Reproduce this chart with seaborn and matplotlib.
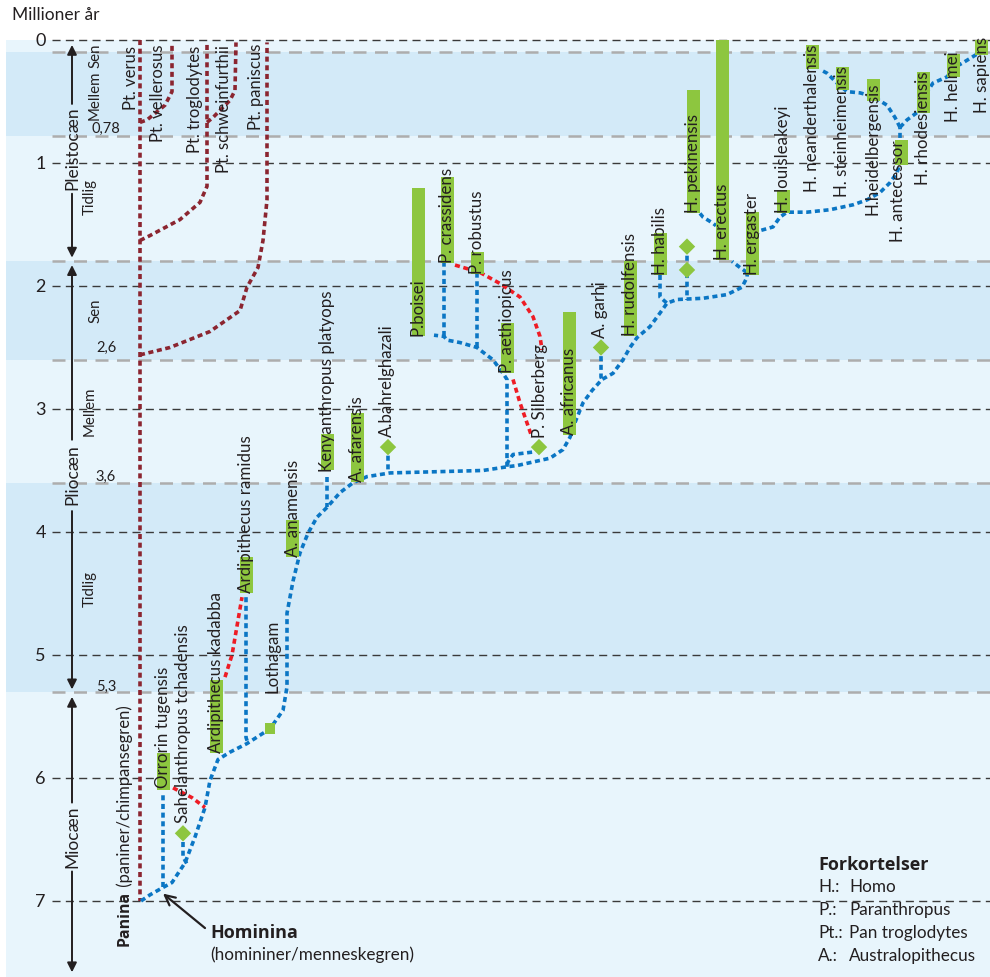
import matplotlib
matplotlib.use("Agg")
import matplotlib.pyplot as plt
import seaborn as sns
import pandas as pd

# ---- time axis (millions of years) ----
year_ticks = [0, 1, 2, 3, 4, 5, 6, 7]
band_edges = [0, 0.1, 0.78, 1.8, 2.6, 3.6, 5.3, 7.62]
band_dark = [False, True, False, True, False, True, False]
boundary_ma = [0.1, 0.78, 1.8, 2.6, 3.6, 5.3]
boundary_text = ["0,78", "2,6", "3,6", "5,3"]
boundary_text_ma = [0.72, 2.50, 3.55, 5.26]

epoch_names = ["Pleistocæn", "Pliocæn", "Miocæn"]
epoch_top = [0.04, 1.83, 5.34]
epoch_bottom = [1.77, 5.28, 7.58]
epoch_mid = [0.88, 3.53, 6.48]
epoch_gap_top = [0.52, 3.25, 6.20]
epoch_gap_bottom = [1.25, 3.83, 6.76]

sub_names = ["Sen", "Mellem", "Tidlig", "Sen", "Mellem", "Tidlig"]
sub_x = [95, 95, 90, 95, 90, 90]
sub_ma = [0.13, 0.45, 1.28, 2.20, 3.02, 4.46]

# ---- known time ranges (green bars) ----
bar_x = [163, 216, 246, 292, 327, 357, 418, 447, 477, 507, 569, 630, 660,
         693, 722, 752, 783, 812, 842, 873, 901, 923, 953, 981]
bar_from = [5.80, 5.20, 4.20, 3.90, 3.20, 3.03, 1.20, 1.11, 1.72, 2.30, 2.21, 1.80, 1.57,
            0.41, 0.00, 1.40, 1.22, 0.04, 0.22, 0.32, 0.81, 0.26, 0.11, 0.00]
bar_to = [6.10, 5.80, 4.50, 4.20, 3.50, 3.59, 2.41, 1.81, 1.90, 2.71, 3.21, 2.41, 1.91,
          1.41, 1.79, 1.91, 1.41, 0.24, 0.41, 0.50, 1.02, 0.59, 0.30, 0.12]

# ---- species names ----
species = ["Orrorin tugensis", "Sahelanthropus tchadensis", "Ardipithecus kadabba",
           "Ardipithecus ramidus", "Lothagam", "A. anamensis", "Kenyanthropus platyops",
           "A. afarensis", "A.bahrelghazali", "P.boisei", "P. crassidens", "P. robustus",
           "P. aethiopicus", "P. Silberberg", "A. africanus", "A. garhi", "H. rudolfensis",
           "H. habilis", "H. pekinensis", "H. erectus", "H. ergaster", "H. louisleakeyi",
           "H. neanderthalensis", "H. steinheimensis", "H.heidelbergensis", "H. antecessor",
           "H. rhodesiensis", "H. helmei", "H. sapiens"]
species_x = [163, 183, 216, 246, 272, 293, 327, 357, 387, 418, 447, 477, 507, 540, 569,
             600, 630, 660, 693, 722, 752, 783, 812, 842, 873, 898, 923, 953, 982]
species_ma = [6.08, 6.37, 5.80, 4.50, 5.31, 4.20, 3.51, 3.59, 3.23, 2.41, 1.81, 1.90, 2.71,
              3.24, 3.21, 2.42, 2.41, 1.91, 1.41, 1.79, 1.91, 1.41, 1.24, 1.28, 1.42, 1.64,
              1.18, 0.67, 0.59]

chimps = ["Pt. verus", "Pt. vellerosus", "Pt. troglodytes", "Pt. schweinfurthii", "Pt. paniscus"]
chimp_x = [131, 158, 195, 224, 256]
chimp_ma = [0.57, 0.83, 0.92, 1.08, 0.73]

# single finds
diamond_x = [183, 388, 539, 601, 687, 687]
diamond_ma = [6.45, 3.31, 3.31, 2.50, 1.68, 1.87]
square_x = [270]
square_ma = [5.60]

# ---- branches (x position, million years) ----
chimp_paths = [
    [(140, 0.0), (140, 7.0)],
    [(140, 0.67), (147, 0.65), (165, 0.53), (172, 0.42), (172, 0.04)],
    [(140, 1.63), (150, 1.59), (180, 1.46), (200, 1.32), (207, 1.19), (207, 0.02)],
    [(207, 0.67), (213, 0.63), (230, 0.49), (235, 0.41), (236, 0.02)],
    [(140, 2.56), (170, 2.50), (210, 2.37), (240, 2.20), (247, 2.01), (258, 1.85),
     (263, 1.63), (267, 1.30), (267, 0.02)],
]
blue_paths = [
    [(141, 7.0), (150, 6.95), (163, 6.89), (172, 6.85), (185, 6.69), (195, 6.48), (205, 6.24),
     (210, 6.02), (218, 5.85), (230, 5.79), (247, 5.72), (270, 5.60), (283, 5.45), (287, 5.26),
     (287, 4.66), (293, 4.40), (300, 4.17), (308, 4.01), (317, 3.88), (327, 3.80), (340, 3.68),
     (353, 3.60), (367, 3.55), (390, 3.52), (483, 3.50), (507, 3.47), (517, 3.46), (550, 3.40),
     (563, 3.33), (570, 3.23), (575, 3.11), (583, 2.95), (592, 2.85), (602, 2.76), (613, 2.71),
     (623, 2.60), (630, 2.50), (637, 2.42), (650, 2.33), (660, 2.22), (667, 2.14), (677, 2.11),
     (703, 2.10), (727, 2.07), (742, 2.01), (747, 1.93), (750, 1.62), (760, 1.55), (773, 1.52),
     (780, 1.44), (787, 1.40), (807, 1.40), (830, 1.38), (853, 1.34), (867, 1.30), (880, 1.24),
     (890, 1.16), (897, 1.08), (900, 1.00), (900, 0.71)],
    [(163, 6.89), (163, 6.12)],
    [(183, 6.45), (183, 6.64), (187, 6.70)],
    [(246, 4.53), (246, 5.67), (248, 5.72)],
    [(327, 3.55), (327, 3.80)],
    [(388, 3.31), (388, 3.52)],
    [(507, 3.47), (507, 2.76), (503, 2.71), (493, 2.60), (480, 2.52), (477, 2.50), (460, 2.46),
     (447, 2.44), (444, 2.41), (434, 2.40)],
    [(477, 2.50), (477, 1.90)],
    [(444, 2.41), (444, 1.81)],
    [(539, 3.31), (533, 3.35), (513, 3.37), (508, 3.43), (507, 3.47)],
    [(601, 2.50), (601, 2.74), (602, 2.76)],
    [(660, 1.91), (660, 2.09), (667, 2.14)],
    [(687, 1.68), (687, 2.11)],
    [(747, 1.89), (740, 1.85), (732, 1.80)],
    [(700, 1.41), (703, 1.44), (713, 1.49), (716, 1.51)],
    [(900, 0.71), (895, 0.63), (887, 0.53), (873, 0.46), (860, 0.43), (847, 0.42), (837, 0.35),
     (827, 0.27), (820, 0.24)],
    [(900, 0.71), (907, 0.65), (917, 0.59), (925, 0.45), (933, 0.35), (947, 0.30), (955, 0.22),
     (962, 0.19), (972, 0.14), (980, 0.10)],
]
red_paths = [
    [(173, 6.08), (192, 6.16), (205, 6.24)],
    [(225, 5.18), (232, 5.00), (242, 4.53)],
    [(455, 1.83), (480, 1.89), (500, 1.98), (520, 2.09), (533, 2.25), (540, 2.41), (542, 2.52)],
    [(513, 2.76), (520, 2.95), (532, 3.23)],
]

abbr = ["H.:", "P.:", "Pt.:", "A.:"]
abbr_names = ["Homo", "Paranthropus", "Pan troglodytes", "Australopithecus"]

# ---- colours ----
DARK = "#d3eaf8"
LIGHT = "#e8f5fc"
GREEN = "#8dc63f"
BLUE = "#0b76c4"
RED = "#ee1c25"
CHIMP = "#8b2530"
INK = "#231f20"

sns.set_style("white")
plt.rcParams["font.family"] = ["Lato", "DejaVu Sans"]
BOLD = ["Open Sans", "DejaVu Sans"]

fig = plt.figure(figsize=(9.9, 9.77), dpi=100)
ax = fig.add_axes([0, 0, 1, 1])
ax.set_xlim(0, 990)
ax.set_ylim(7.618, -0.325)
for s in ax.spines.values():
    s.set_visible(False)

# background bands
for i in range(len(band_dark)):
    ax.axhspan(band_edges[i], band_edges[i + 1], xmin=6 / 990, xmax=1,
               color=DARK if band_dark[i] else LIGHT, lw=0, zorder=0)

# grid
ax.hlines(boundary_ma, 52, 990, colors="#adadad", lw=1.8, linestyles=(0, (5.2, 3.4)), zorder=1)
ax.hlines(year_ticks, 52, 990, colors="#3a3a3a", lw=1.0, linestyles=(0, (5.8, 3.8)), zorder=1)

ax.set_xticks([])
ax.set_yticks(year_ticks)
ax.set_yticklabels([str(t) for t in year_ticks])
ax.tick_params(axis="y", length=0, pad=-33, labelsize=13, labelcolor=INK)

ax.text(12, -0.2, "Millioner år", fontsize=12.5, color=INK, ha="left", va="center")

# epoch arrows, split around the label
arrow = dict(arrowstyle="-|>", color=INK, lw=1.4, mutation_scale=14, shrinkA=0, shrinkB=0)
for name, top, bot, mid, g0, g1 in zip(epoch_names, epoch_top, epoch_bottom, epoch_mid,
                                       epoch_gap_top, epoch_gap_bottom):
    ax.annotate("", xy=(72, top), xytext=(72, g0), arrowprops=arrow, zorder=3)
    ax.annotate("", xy=(72, bot), xytext=(72, g1), arrowprops=arrow, zorder=3)
    ax.text(72, mid, name, rotation=90, ha="center", va="center", fontsize=12.5, color=INK)
for name, x, y in zip(sub_names, sub_x, sub_ma):
    ax.text(x, y, name, rotation=90, ha="center", va="center", fontsize=10.8, color=INK)
for lab, y in zip(boundary_text, boundary_text_ma):
    ax.text(106, y, lab, ha="center", va="center", fontsize=10.5, color=INK)

# branches
dash = (0, (1.4, 1.0))
for p in chimp_paths:
    ax.plot([a for a, b in p], [b for a, b in p], color=CHIMP, lw=2.6, ls=dash, zorder=2)
for p in blue_paths:
    ax.plot([a for a, b in p], [b for a, b in p], color=BLUE, lw=2.6, ls=dash, zorder=2)
for p in red_paths:
    ax.plot([a for a, b in p], [b for a, b in p], color=RED, lw=2.6, ls=dash, zorder=2)

# time ranges
bars = pd.DataFrame({"x": bar_x, "start": bar_from, "end": bar_to})
ax.bar(bars["x"], bars["end"] - bars["start"], bottom=bars["start"], width=13,
       color=GREEN, lw=0, zorder=3)

finds = pd.DataFrame({"x": diamond_x, "ma": diamond_ma})
sns.scatterplot(data=finds, x="x", y="ma", marker="D", s=70, color=GREEN,
                edgecolor="none", ax=ax, zorder=4)
sns.scatterplot(x=square_x, y=square_ma, marker="s", s=60, color=GREEN,
                edgecolor="none", ax=ax, zorder=4)
ax.set_xlabel("")
ax.set_ylabel("")

for name, x, y in zip(species, species_x, species_ma):
    ax.text(x, y, name, rotation=90, ha="center", va="bottom", fontsize=12.2, color=INK, zorder=5)
for name, x, y in zip(chimps, chimp_x, chimp_ma):
    ax.text(x, y, name, rotation=90, ha="center", va="bottom", fontsize=12, color=INK, zorder=5)

t = ax.text(125, 7.37, "Panina", rotation=90, ha="center", va="bottom", family=BOLD,
            fontsize=11.5, fontweight="bold", color=INK, zorder=5)
ax.annotate(" (paniner/chimpansegren)", xy=(0.5, 1.0), xycoords=t, rotation=90,
            ha="center", va="bottom", fontsize=12, color=INK, zorder=5)

ax.text(210, 7.26, "Hominina", fontsize=13, fontweight="bold", family=BOLD, color=INK,
        ha="left", va="center")
ax.text(210, 7.44, "(homininer/menneskegren)", fontsize=12.3, color=INK, ha="left", va="center")
ax.annotate("", xy=(163, 6.94), xytext=(205, 7.22),
            arrowprops=dict(arrowstyle="->", color=INK, lw=1.6, mutation_scale=18,
                            shrinkA=0, shrinkB=0))

# abbreviations
ax.text(818, 6.71, "Forkortelser", fontsize=13, fontweight="bold", family=BOLD, color=INK,
        va="center")
for i, (a, n) in enumerate(zip(abbr, abbr_names)):
    y = 6.89 + i * 0.187
    ax.text(818, y, a, fontsize=12.3, color=INK, va="center")
    ax.text(849, y, n, fontsize=12.3, color=INK, va="center")

fig.savefig("out.png", dpi=100)
